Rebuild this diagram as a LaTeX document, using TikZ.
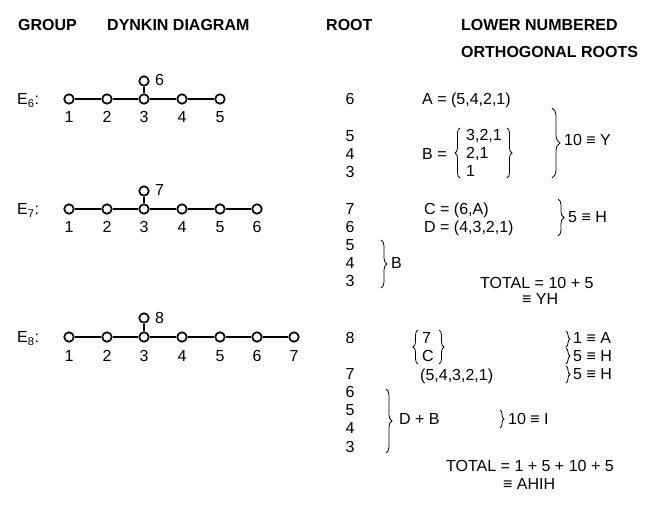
\documentclass[tikz,border=0pt]{standalone}
\usepackage{fontspec}
\setmainfont{Liberation Sans}
\usetikzlibrary{positioning, calc, decorations.pathreplacing}

\begin{document}
\begin{tikzpicture}[
    x=1pt, y=-1pt,
    every node/.style={font=\fontsize{16}{19}\selectfont, inner sep=0pt, text height=11.5pt, text depth=0pt},
    head/.style={font=\fontsize{16}{19}\selectfont\bfseries, anchor=west},
    txt/.style={anchor=west},
    rootnum/.style={anchor=center},
    dot/.style={circle, draw, line width=1.7pt, fill=white, minimum size=9.5pt, text height=0pt},
    bond/.style={line width=1.9pt},
    rbrace/.style={decorate, decoration={brace, amplitude=#1}, line width=0.8pt},
    rbrace/.default=5pt
]
\useasboundingbox (0,0) rectangle (657,506);

% Headings
\node[head] (hgroup) at (18,25) {GROUP};
\node[head] (hdynkin) at (107,25) {DYNKIN DIAGRAM};
\node[head] (hroot) at (326,25) {ROOT};
\node[head] (hlower) at (461,25) {LOWER NUMBERED};
\node[head] (horth) at (461,52) {ORTHOGONAL ROOTS};

% E6 diagram
\node[txt] (e6) at (17,99) {E\textsubscript{6}:};
\foreach \i/\x in {1/69,2/107,3/144,4/182,5/220} {
    \node[dot] (a\i) at (\x,99) {};
    \node (la\i) at (\x,117) {\i};
}
\node[dot] (a6) at (144,81) {};
\node[txt] (la6) at (155,80) {6};
\foreach \i/\j in {1/2,2/3,3/4,4/5,3/6}
    \draw[bond] (a\i) -- (a\j);

% E6 roots
\foreach \r/\y in {6/99,5/136,4/154,3/172}
    \node[rootnum] (ra\r) at (350,\y) {\r};
\node[txt] (defA) at (422,99) {A = (5,4,2,1)};
\node[txt] (defB) at (422,154) {B =};
\node[txt] (b1) at (466,135) {3,2,1};
\node[txt] (b2) at (466,153) {2,1};
\node[txt] (b3) at (466,171) {1};
\draw[rbrace] (460,178) -- (460,128);
\draw[rbrace] (507,128) -- (507,178);
\draw[rbrace=8pt] (552,108) -- (552,178);
\node[txt] (sumY) at (564,140) {10 ≡ Y};

% E7 diagram
\node[txt] (e7) at (17,209) {E\textsubscript{7}:};
\foreach \i/\x in {1/69,2/107,3/144,4/182,5/220,6/257} {
    \node[dot] (b\i) at (\x,209) {};
    \node (lb\i) at (\x,227) {\i};
}
\node[dot] (b7) at (144,191) {};
\node[txt] (lb7) at (155,190) {7};
\foreach \i/\j in {1/2,2/3,3/4,4/5,5/6,3/7}
    \draw[bond] (b\i) -- (b\j);

% E7 roots
\foreach \r/\y in {7/209,6/227,5/245,4/263,3/281}
    \node[rootnum] (rb\r) at (350,\y) {\r};
\node[txt] (defC) at (424,209) {C = (6,A)};
\node[txt] (defD) at (424,227) {D = (4,3,2,1)};
\draw[rbrace=6pt] (558,199) -- (558,236);
\node[txt] (sumH) at (568,217) {5 ≡ H};
\draw[rbrace=6pt] (381,240) -- (381,288);
\node[txt] (refB) at (391,263) {B};
\node[txt] (tot7) at (480,283) {TOTAL = 10 + 5};
\node[txt] (tot7b) at (522,299) {≡ YH};

% E8 diagram
\node[txt] (e8) at (17,337) {E\textsubscript{8}:};
\foreach \i/\x in {1/69,2/107,3/144,4/182,5/220,6/257,7/294} {
    \node[dot] (c\i) at (\x,337) {};
    \node (lc\i) at (\x,356) {\i};
}
\node[dot] (c8) at (144,318) {};
\node[txt] (lc8) at (155,318) {8};
\foreach \i/\j in {1/2,2/3,3/4,4/5,5/6,6/7,3/8}
    \draw[bond] (c\i) -- (c\j);

% E8 roots
\foreach \r/\y in {8/338,7/374,6/392,5/410,4/428,3/447}
    \node[rootnum] (rc\r) at (350,\y) {\r};
\draw[rbrace] (418,364) -- (418,330);
\node[txt] (set7) at (422,338) {7};
\node[txt] (setC) at (422,356) {C};
\draw[rbrace] (439,330) -- (439,364);
\node[txt] (seq) at (420,375) {(5,4,3,2,1)};
\draw[rbrace=4pt] (566,331) -- (566,347);
\node[txt] (sumA) at (573,338) {1 ≡ A};
\draw[rbrace=4pt] (566,348) -- (566,364);
\node[txt] (sumH1) at (573,356) {5 ≡ H};
\draw[rbrace=4pt] (566,366) -- (566,383);
\node[txt] (sumH2) at (573,374) {5 ≡ H};
\draw[rbrace=6pt] (386,389) -- (386,453);
\node[txt] (refDB) at (399,419) {D + B};
\draw[rbrace=4pt] (500,410) -- (500,428);
\node[txt] (sumI) at (508,419) {10 ≡ I};
\node[txt] (tot8) at (446,466) {TOTAL = 1 + 5 + 10 + 5};
\node[txt] (tot8b) at (503,484) {≡ AHIH};

\end{tikzpicture}
\end{document}
